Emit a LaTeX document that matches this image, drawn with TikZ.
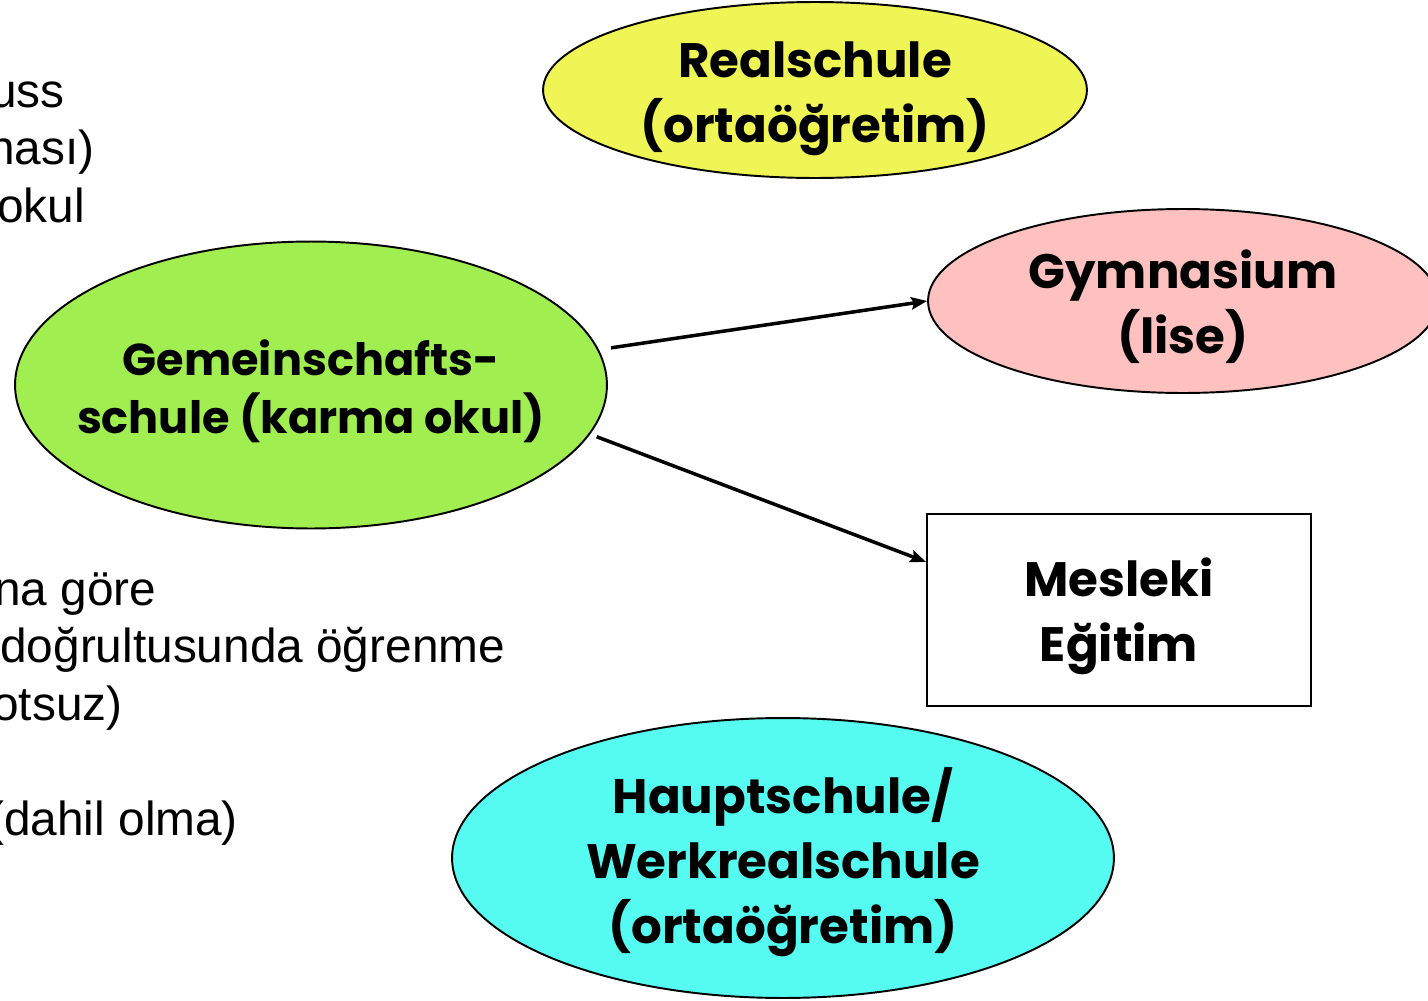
\documentclass[tikz,border=0pt]{standalone}
\usepackage{fontspec}
\setmainfont{Liberation Sans}
\newfontfamily\headfont{Poppins}
\usetikzlibrary{shapes.geometric,arrows.meta}

\definecolor{realcolor}{RGB}{238,245,85}
\definecolor{gymcolor}{RGB}{255,192,192}
\definecolor{gemcolor}{RGB}{160,238,80}
\definecolor{hauptcolor}{RGB}{85,250,240}

\tikzset{
  schoolell/.style={ellipse,draw=black,line width=1.1pt,inner sep=0pt},
  headtext/.style={align=center,yshift=-3.5pt,font=\headfont\bfseries\fontsize{27.5}{37}\selectfont},
  sidetext/.style={anchor=base west,inner sep=0pt,font=\fontsize{27.2}{32.6}\selectfont},
  flow/.style={line width=2pt,-{Stealth[length=9pt,width=7pt,inset=1.5pt]}}
}

\begin{document}
\begin{tikzpicture}[x=0.02cm,y=-0.02cm]
\useasboundingbox (0,0) rectangle (1428,1001);
\clip (0,0) rectangle (1428,1001);
\fill[white] (0,0) rectangle (1428,1001);

% text on the left, cut by the page edge
\node[sidetext] (l1) at (-10,107) {uss};
\node[sidetext] (l2) at (-12,164.5) {nası)};
\node[sidetext] (l3) at (-3,222) {okul};
\node[sidetext] (l4) at (-6,605) {na göre};
\node[sidetext] (l5) at (0,662) {doğrultusunda öğrenme};
\node[sidetext] (l6) at (-8,720) {otsuz)};
\node[sidetext] (l7) at (-12,835) {(dahil olma)};

% schools
\node[schoolell,fill=realcolor,minimum width=10.88cm,minimum height=3.52cm] (real) at (815,90) {};
\node[headtext,yshift=-1.5pt] (realtxt) at (real) {Realschule\\(ortaöğretim)};

\node[schoolell,fill=gymcolor,minimum width=10.2cm,minimum height=3.68cm] (gym) at (1183,301) {};
\node[headtext] (gymtxt) at (gym) {Gymnasium\\(lise)};

\node[schoolell,fill=gemcolor,minimum width=11.84cm,minimum height=5.74cm] (gem) at (311,385) {};
\node[headtext,font=\headfont\bfseries\fontsize{25.4}{33}\selectfont] (gemtxt) at (gem) {Gemeinschafts-\\schule (karma okul)};

\node[draw=black,line width=1.1pt,fill=white,minimum width=7.68cm,minimum height=3.84cm] (mes) at (1119,610) {};
\node[headtext] (mestxt) at (mes) {Mesleki\\Eğitim};

\node[schoolell,fill=hauptcolor,minimum width=13.24cm,minimum height=5.6cm] (haupt) at (783,858) {};
\node[headtext,yshift=1pt] (hauptxt) at (haupt) {Hauptschule/\\Werkrealschule\\(ortaöğretim)};

% arrows
\draw[flow,shorten <=7pt] (gem.7) -- (gym.west);
\draw[flow,shorten <=4pt] (gem.-10) -- (mes.166);
\end{tikzpicture}
\end{document}
